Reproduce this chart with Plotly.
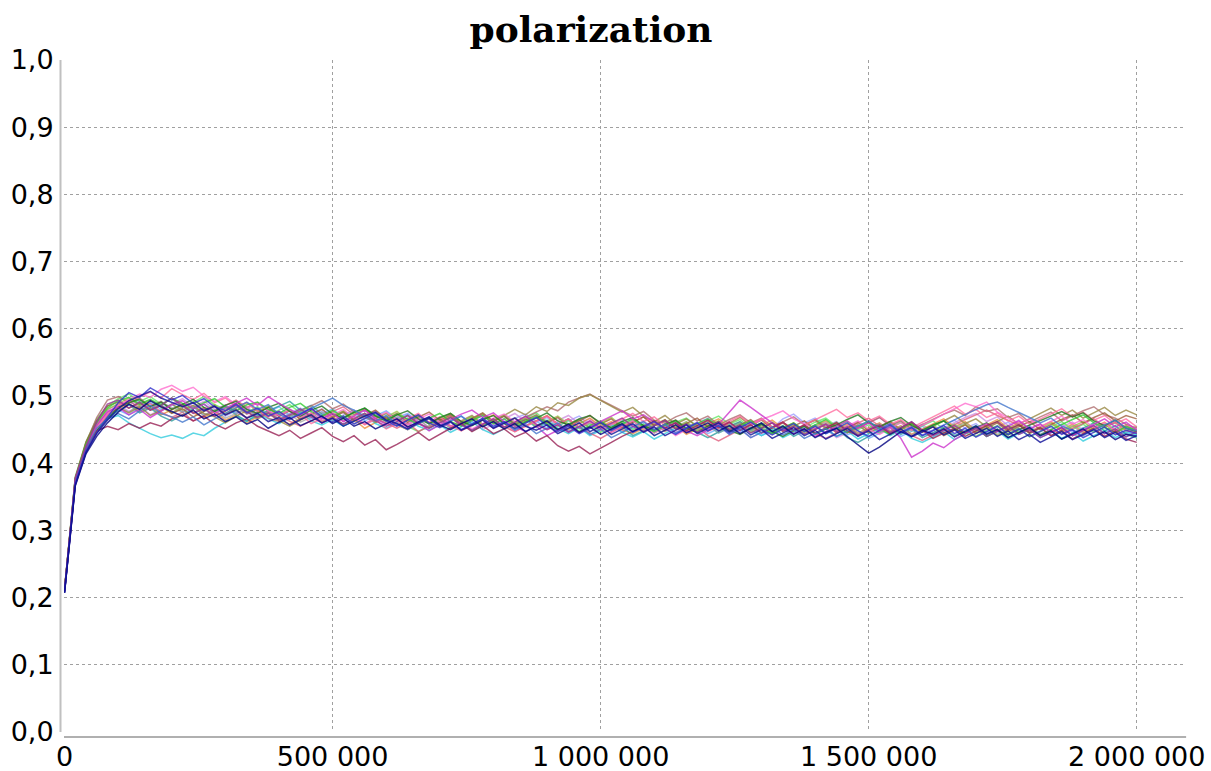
import plotly.graph_objects as go

# ---- data (polarization values, in thousandths, sampled every 20 000 steps) ----
sample_step = 20000
chart_title = "polarization"
y_ticks = [0.0, 0.1, 0.2, 0.3, 0.4, 0.5, 0.6, 0.7, 0.8, 0.9, 1.0]
x_ticks = [0, 500000, 1000000, 1500000, 2000000]

sA = [210,378,425,462,488,494,482,491,479,486,497,
      485,474,481,470,478,489,476,468,475,464,
      472,481,469,460,467,458,466,474,463,455,
      462,471,459,452,460,468,457,449,458,466,
      454,461,470,458,450,457,446,455,463,452,
      459,467,455,447,456,464,451,458,446,453,
      462,450,457,445,452,460,448,455,443,451,
      458,447,454,442,450,457,446,453,462,449,
      441,448,456,445,452,440,447,455,443,450,
      438,446,453,441,449,456,444,451,439,447]
sB = [208,370,418,445,468,490,505,498,512,503,494,
      501,489,496,484,478,487,475,482,470,477,
      466,473,482,469,461,470,458,466,475,463,
      455,464,472,460,453,461,450,458,467,455,
      462,451,459,468,456,447,455,444,452,461,
      449,457,446,454,462,451,443,452,460,448,
      456,445,453,461,450,442,451,459,447,455,
      444,452,460,448,440,449,457,445,453,441,
      448,456,444,452,439,447,455,443,451,440,
      447,455,443,450,438,446,454,442,449,444]
sC = [212,372,420,450,466,471,460,452,444,438,442,
      437,445,441,452,461,470,462,474,466,459,
      468,476,463,457,465,455,463,471,459,452,
      460,467,455,449,457,446,454,462,450,443,
      451,459,447,455,464,452,444,453,441,449,
      457,446,439,447,436,444,452,460,448,456,
      445,452,460,449,441,450,438,446,455,443,
      451,440,448,436,444,452,441,449,437,431,
      439,447,435,444,452,440,448,436,445,453,
      441,449,437,445,433,441,449,438,446,442]
sD = [209,368,419,452,474,486,495,503,498,510,516,
      507,513,500,492,499,487,481,490,478,471,
      479,468,475,463,471,480,467,459,468,476,
      464,457,466,473,461,454,463,451,459,467,
      473,462,469,457,450,458,447,455,463,452,
      446,455,463,451,445,453,441,450,458,464,
      452,460,448,456,465,471,478,466,459,451,
      458,447,455,463,450,443,452,460,449,456,
      464,473,481,489,484,491,476,468,459,466,
      454,462,470,458,465,453,460,448,456,451]
sE = [211,376,428,460,482,493,498,488,495,486,497,
      489,481,490,496,484,478,487,491,480,474,
      483,489,477,470,479,468,475,482,471,464,
      473,465,458,467,474,462,455,464,471,459,
      466,455,462,470,458,450,459,447,456,463,
      451,458,466,454,447,456,463,450,459,466,
      455,447,456,463,452,444,453,460,449,457,
      465,453,446,455,462,451,443,452,459,448,
      456,463,451,444,453,440,448,456,445,452,
      442,450,458,465,472,460,453,446,455,449]
sF = [207,366,414,440,460,476,488,480,493,484,477,
      470,479,466,473,462,469,458,465,452,461,
      468,456,463,470,459,467,455,462,451,458,
      466,454,461,469,457,450,459,466,454,462,
      451,459,447,455,463,450,458,446,454,443,
      451,459,447,455,441,449,457,445,453,460,
      448,456,444,452,460,447,455,443,451,438,
      446,452,440,428,415,424,436,447,440,449,
      443,451,439,447,455,443,450,438,446,453,
      441,448,436,444,451,439,447,435,443,440]
sG = [210,372,422,450,471,483,475,484,471,478,488,
      479,486,474,469,460,470,478,466,474,463,
      455,464,472,460,468,477,465,458,467,474,
      463,471,459,452,461,469,457,466,474,462,
      471,480,472,484,477,490,486,497,502,493,
      484,476,483,470,462,471,458,466,455,463,
      451,459,468,456,464,452,460,448,456,465,
      453,461,449,457,445,454,462,450,458,447,
      455,463,471,459,466,454,462,470,458,466,
      474,482,471,479,467,475,483,471,479,472]
sH = [213,373,421,448,455,450,459,452,460,455,466,
      472,463,470,458,451,460,466,455,448,441,
      449,437,445,453,440,432,441,427,435,420,
      428,437,446,434,443,452,459,447,456,444,
      451,439,446,433,441,426,418,425,414,422,
      431,440,447,455,463,452,460,448,456,464,
      453,461,449,457,445,453,461,449,457,445,
      452,460,448,441,450,456,444,453,461,449,
      437,445,452,440,448,456,462,450,457,445,
      453,441,449,436,444,452,440,448,436,431]
sI = [209,374,424,457,477,483,472,480,468,477,487,
      493,481,488,474,482,490,497,486,499,489,
      480,472,481,466,474,462,470,479,466,458,
      466,453,461,448,457,465,473,479,468,475,
      462,455,447,455,441,449,457,445,454,462,
      470,478,466,472,461,453,460,448,441,450,
      458,476,494,483,471,460,451,444,452,440,
      447,455,463,452,460,447,454,437,409,418,
      430,423,435,444,451,459,447,455,463,451,
      458,446,453,441,450,458,466,454,461,449]
sJ = [211,371,422,455,473,481,489,477,484,472,480,
      487,475,468,477,464,472,460,469,477,465,
      458,467,474,462,470,457,465,452,461,469,
      457,450,459,466,454,462,449,457,465,472,
      460,467,455,463,471,458,450,459,467,455,
      462,450,444,452,460,448,456,443,451,459,
      466,454,461,449,457,464,452,460,447,455,
      463,451,458,445,453,460,448,456,443,451,
      459,466,454,462,449,457,465,452,460,447,
      455,462,450,458,446,453,461,449,457,446]
sK = [210,380,432,466,485,496,503,492,499,488,496,
      484,491,499,487,480,488,476,484,471,479,
      487,475,482,469,477,464,472,480,467,459,
      467,455,447,456,464,452,460,469,456,464,
      471,459,467,475,462,455,464,451,459,446,
      454,462,450,458,445,453,461,467,455,463,
      470,458,465,452,460,448,456,444,452,461,
      467,455,462,450,457,445,453,461,448,456,
      463,451,458,445,440,449,456,444,452,439,
      447,455,462,450,458,446,453,460,448,455]
sL = [208,369,416,448,467,478,487,475,482,470,463,
      472,481,488,477,484,472,463,471,478,485,
      492,479,486,473,466,458,467,474,461,469,
      456,464,470,458,466,453,461,448,456,463,
      470,458,466,453,461,449,457,465,452,460,
      447,455,441,449,456,463,451,459,446,438,
      447,455,462,450,458,445,453,440,448,457,
      444,452,438,431,440,448,455,443,451,438,
      446,453,441,449,456,444,451,438,446,454,
      441,449,436,444,452,460,448,456,443,438]
sM = [212,374,423,455,471,480,487,493,481,488,475,
      483,490,477,485,470,478,484,472,479,466,
      474,482,469,477,464,471,479,466,473,460,
      468,474,462,469,456,463,470,458,465,452,
      460,467,473,461,468,455,463,470,457,450,
      458,446,455,462,449,457,444,452,460,467,
      455,462,449,457,444,452,466,473,460,467,
      455,462,450,457,444,452,460,447,455,442,
      450,457,464,452,459,446,454,461,449,456,
      443,451,458,446,453,440,448,455,443,450]
sN = [209,369,420,453,472,484,492,499,506,497,511,
      502,495,504,490,497,484,490,478,469,477,
      465,473,459,467,474,462,470,457,465,451,
      459,467,474,461,469,456,448,457,465,452,
      460,447,455,463,470,458,466,453,461,449,
      457,465,474,462,469,456,464,451,459,447,
      455,463,470,458,466,453,461,449,457,465,
      472,480,468,475,463,470,458,465,453,461,
      469,477,485,473,480,468,475,463,470,458,
      466,474,481,469,476,464,471,459,466,454]
sO = [210,377,430,468,494,499,490,497,485,492,480,
      488,475,483,470,478,485,473,480,467,462,
      470,478,486,493,481,488,476,469,461,469,
      456,465,472,460,467,455,463,471,458,466,
      453,461,469,476,484,478,491,497,503,494,
      486,478,470,477,464,460,469,475,463,470,
      457,465,472,460,467,454,462,469,457,464,
      451,458,445,453,461,468,456,463,450,458,
      466,473,479,471,484,477,481,468,474,461,
      469,476,463,471,478,484,472,467,458,452]
sP = [211,371,424,448,466,483,490,495,484,491,480,
      488,495,483,477,486,492,480,474,483,489,
      477,470,479,485,473,467,476,482,470,463,
      472,478,466,459,468,474,462,456,465,471,
      459,452,461,467,475,463,457,466,471,460,
      453,462,468,456,449,458,464,452,446,455,
      461,449,443,452,458,447,440,449,455,444,
      451,457,465,472,460,454,462,468,456,449,
      457,463,451,445,453,460,448,442,450,457,
      463,470,477,469,475,463,456,464,452,447]
sQ = [207,367,416,444,464,481,493,500,507,497,491,
      484,490,478,485,472,479,467,474,462,468,
      457,465,472,460,467,455,463,470,476,464,
      459,451,460,467,455,462,449,457,464,452,
      460,467,455,449,457,444,452,460,447,455,
      443,451,459,446,454,441,449,457,444,452,
      460,447,455,442,450,437,445,453,441,449,
      436,444,452,440,448,435,443,451,439,447,
      454,442,450,437,445,452,440,448,435,443,
      431,439,447,435,443,450,438,446,434,441]
sR = [210,376,427,460,479,488,477,485,472,480,489,
      496,484,492,480,487,475,468,477,484,471,
      479,466,474,481,469,476,463,471,478,465,
      472,459,466,453,461,468,456,463,450,458,
      466,474,462,469,456,464,471,459,466,453,
      460,448,456,463,451,458,446,453,461,449,
      456,443,451,438,446,453,460,448,456,443,
      451,438,445,453,460,468,456,463,450,458,
      445,453,460,468,474,462,469,456,464,451,
      459,446,454,461,449,456,444,451,446,452]
sS = [209,372,421,452,466,474,466,478,486,474,469,
      461,469,457,466,474,482,491,480,487,473,
      465,474,482,490,497,486,479,470,463,471,
      458,450,459,466,455,463,470,458,466,453,
      461,449,457,444,452,460,447,455,443,451,
      438,446,454,462,450,458,445,453,460,448,
      456,443,451,438,446,454,442,450,437,445,
      452,440,448,456,463,451,459,446,454,441,
      449,457,465,472,480,487,491,483,476,468,
      460,467,455,449,441,450,457,464,452,448]
sT = [212,375,426,458,475,486,493,482,489,476,468,
      476,463,471,479,486,494,483,490,477,470,
      463,455,463,470,478,484,472,480,467,460,
      452,460,447,455,463,470,458,466,473,461,
      454,447,456,463,470,458,466,453,445,437,
      446,454,462,469,457,464,452,446,454,441,
      433,442,450,458,465,453,461,449,456,444,
      437,445,452,460,467,455,462,449,441,434,
      442,450,457,465,472,479,471,464,456,449,
      442,450,444,452,459,466,454,461,449,445]
sU = [210,373,423,455,474,484,476,487,479,491,483,
      476,485,471,479,467,474,482,469,477,465,
      473,461,469,476,464,471,459,467,474,462,
      469,457,465,453,461,468,456,464,471,459,
      452,460,468,456,463,451,458,466,453,461,
      449,456,464,452,459,447,455,462,450,457,
      445,453,460,448,455,443,451,458,446,454,
      461,449,456,444,452,459,447,455,442,450,
      457,445,453,460,448,455,443,451,458,446,
      453,441,449,456,444,451,439,447,454,444]
sV = [211,377,429,461,480,489,497,486,494,483,475,
      484,491,479,487,474,482,490,477,485,472,
      480,467,475,463,471,478,466,474,461,469,
      477,464,472,459,467,474,462,470,457,465,
      472,460,467,455,463,470,458,465,452,460,
      468,455,463,450,458,465,453,461,448,456,
      463,451,458,446,454,461,449,457,444,452,
      459,447,455,442,450,457,445,453,461,448,
      456,443,451,458,446,454,441,449,457,444,
      452,460,447,455,462,450,458,445,453,448]
sW = [209,370,419,449,469,479,472,483,491,480,488,
      476,484,471,479,486,474,481,469,476,484,
      471,479,466,473,481,468,476,463,471,478,
      466,473,460,468,455,463,470,458,466,453,
      461,468,456,463,451,458,466,453,461,448,
      456,463,451,459,446,454,461,449,456,444,
      451,459,446,454,441,449,456,444,452,439,
      447,454,442,449,437,445,452,440,447,455,
      442,450,457,445,452,440,448,455,443,450,
      438,446,453,441,449,456,444,451,439,446]
sX = [213,378,431,463,485,491,482,490,479,486,474,
      481,469,477,485,472,480,467,475,483,470,
      478,465,473,480,468,476,463,471,479,466,
      474,461,469,476,464,472,459,467,475,462,
      470,457,465,472,460,468,455,463,471,458,
      466,453,461,469,456,464,451,459,467,454,
      462,449,457,465,452,460,447,455,463,450,
      458,445,453,461,448,456,443,451,459,446,
      454,441,449,457,444,452,460,447,455,462,
      450,458,465,472,460,468,475,463,471,466]

series = [sM, sR, sW, sJ, sK, sC, sL, sO, sT, sU, sV, sX,
          sG, sN, sD, sE, sP, sI, sH, sS, sA, sB, sF, sQ]

colors = [
    "rgba(153,153,255,0.75)",  # M lavender
    "rgba(204,136,221,0.75)",  # R light purple
    "rgba(102,170,255,0.75)",  # W light blue
    "rgba(238,136,51,0.75)",   # J orange
    "rgba(102,230,102,0.8)",   # K light green
    "rgba(51,204,221,0.8)",    # C cyan
    "rgba(34,153,153,0.75)",   # L teal
    "rgba(170,102,102,0.75)",  # O rosy brown
    "rgba(221,85,119,0.75)",   # T rose
    "rgba(150,150,150,0.65)",  # U gray
    "rgba(150,190,60,0.75)",   # V yellow-green
    "rgba(153,85,51,0.75)",    # X brown
    "rgba(153,136,68,0.8)",    # G olive
    "rgba(255,102,153,0.75)",  # N hot pink
    "rgba(255,102,204,0.75)",  # D pink
    "rgba(51,204,51,0.8)",     # E green
    "rgba(34,119,34,0.8)",     # P dark green
    "rgba(204,51,204,0.8)",    # I magenta
    "rgba(153,34,85,0.8)",     # H maroon
    "rgba(68,119,204,0.8)",    # S steel blue
    "rgba(153,51,153,0.8)",    # A purple
    "rgba(51,51,204,0.8)",     # B blue
    "rgba(0,0,128,0.8)",       # F navy
    "rgba(17,17,153,0.8)",     # Q dark blue
]

fig = go.Figure()
for vals, col in zip(series, colors):
    vals = vals[:101]
    xs = [i * sample_step for i in range(len(vals))]
    ys = [v / 1000 for v in vals]
    fig.add_trace(go.Scatter(x=xs, y=ys, mode="lines",
                             line=dict(color=col, width=1.5),
                             showlegend=False, hoverinfo="skip"))

grid_col = "#a0a0a0"
fig.update_layout(
    width=1211, height=771,
    margin=dict(l=64, r=26, t=60, b=39),
    paper_bgcolor="white", plot_bgcolor="white",
    separators=", ",
    title=dict(text="<b>" + chart_title + "</b>", x=591 / 1211, xanchor="center",
               y=1 - 29 / 771, yanchor="middle",
               font=dict(family="DejaVu Serif", size=36, color="black")),
    xaxis=dict(range=[-1000, 2090000], tickvals=x_ticks, tickformat=",d",
               showgrid=True, gridcolor=grid_col, griddash="dot", gridwidth=1,
               zeroline=False, showline=False, automargin=False,
               ticks="outside", ticklen=1, tickcolor="rgba(0,0,0,0)",
               tickfont=dict(family="DejaVu Sans", size=27, color="black")),
    yaxis=dict(range=[0, 1.0], tickvals=y_ticks, tickformat=".1f",
               showgrid=True, gridcolor=grid_col, griddash="dot", gridwidth=1,
               zeroline=False, showline=False, automargin=False,
               ticks="outside", ticklen=4, tickcolor="rgba(0,0,0,0)",
               tickfont=dict(family="DejaVu Sans", size=27, color="black")),
    shapes=[
        dict(type="line", xref="paper", yref="paper", x0=0, x1=1.001,
             y0=-5 / 672, y1=-5 / 672, line=dict(color="#b0b0b0", width=2)),
        dict(type="line", xref="paper", yref="paper", x0=-3.5 / 1121, x1=-3.5 / 1121,
             y0=0, y1=1, line=dict(color="#c0c0c0", width=2)),
    ],
)

fig.write_html("out.html", config={"displayModeBar": False},
               post_script="document.body.style.margin='0';")
